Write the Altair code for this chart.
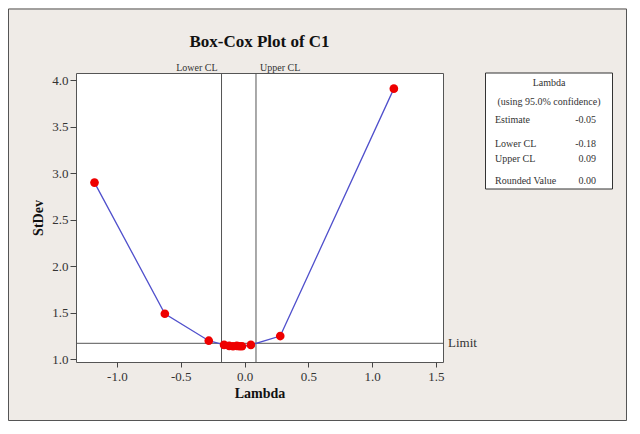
import altair as alt
import pandas as pd

# ---- data ----
lam = [-1.175, -0.624, -0.28, -0.16, -0.12, -0.09, -0.06, -0.04, -0.02, 0.05, 0.28, 1.17]
stdev = [2.90, 1.49, 1.20, 1.155, 1.145, 1.14, 1.145, 1.14, 1.14, 1.155, 1.25, 3.91]
x_ticks = [-1.0, -0.5, 0.0, 0.5, 1.0, 1.5]
y_ticks = [1.0, 1.5, 2.0, 2.5, 3.0, 3.5, 4.0]
lower_cl = -0.18
upper_cl = 0.09
limit = 1.172
legend_labels = ["Estimate", "Lower CL", "Upper CL", "Rounded Value"]
legend_values = ["-0.05", "-0.18", "0.09", "0.00"]

FONT = "Liberation Serif"
W, H = 367, 289
PAD = {"left": 68, "top": 65, "right": 184, "bottom": 59}

df = pd.DataFrame({"Lambda": lam, "StDev": stdev})
cl_df = pd.DataFrame({"v": [lower_cl, upper_cl], "lab": ["Lower CL", "Upper CL"]})
lim_df = pd.DataFrame({"y": [limit]})

xs = alt.Scale(domain=[-1.32, 1.555], nice=False, zero=False)
ys = alt.Scale(domain=[0.971, 4.078], nice=False, zero=False)

HYPHEN = "replace(format(datum.value, '.1f'), '\u2212', '-')"

xaxis = alt.Axis(values=x_ticks, labelExpr=HYPHEN, grid=False, domain=False, tickSize=5,
                 tickColor="#444", labelFont=FONT, labelFontSize=13, labelColor="#333",
                 labelPadding=3, title="Lambda", titleFont=FONT, titleFontSize=14,
                 titleFontWeight="bold", titleColor="#111", titlePadding=3)
yaxis = alt.Axis(values=y_ticks, labelExpr=HYPHEN, grid=False, domain=False, tickSize=6,
                 tickColor="#444", labelFont=FONT, labelFontSize=13, labelColor="#333",
                 labelPadding=2, title="StDev", titleFont=FONT, titleFontSize=14,
                 titleFontWeight="bold", titleColor="#111", titlePadding=6)

base = alt.Chart(df)

line = base.mark_line(color="#5050cc", strokeWidth=1.3).encode(
    x=alt.X("Lambda:Q", scale=xs, axis=xaxis),
    y=alt.Y("StDev:Q", scale=ys, axis=yaxis),
)
pts = base.mark_circle(color="#ee0000", size=75, opacity=1).encode(
    x=alt.X("Lambda:Q", scale=xs), y=alt.Y("StDev:Q", scale=ys)
)

cl_rules = alt.Chart(cl_df).mark_rule(color="#555", strokeWidth=1).encode(
    x=alt.X("v:Q", scale=xs)
)
lower_txt = alt.Chart(cl_df.iloc[[0]]).mark_text(
    font=FONT, fontSize=10, color="#333", align="right", baseline="alphabetic", dx=-4
).encode(x=alt.X("v:Q", scale=xs), y=alt.value(-2.5), text="lab:N")
upper_txt = alt.Chart(cl_df.iloc[[1]]).mark_text(
    font=FONT, fontSize=10, color="#333", align="left", baseline="alphabetic", dx=4
).encode(x=alt.X("v:Q", scale=xs), y=alt.value(-2.5), text="lab:N")

lim_rule = alt.Chart(lim_df).mark_rule(color="#555", strokeWidth=1).encode(
    y=alt.Y("y:Q", scale=ys)
)
lim_txt = alt.Chart(lim_df).mark_text(
    font=FONT, fontSize=13, color="#333", align="left", baseline="middle", dx=5, text="Limit"
).encode(x=alt.value(W), y=alt.Y("y:Q", scale=ys))

title = alt.Chart(lim_df).mark_text(
    font=FONT, fontSize=17, fontWeight="bold", color="#111", align="center",
    baseline="alphabetic", text="Box-Cox Plot of C1"
).encode(x=alt.value(W / 2), y=alt.value(-26.5))

# outer frame of the graph window
outer = alt.Chart(lim_df).mark_rect(fill=None, stroke="#555", strokeWidth=1).encode(
    x=alt.value(-67.5), x2=alt.value(550.5), y=alt.value(-64), y2=alt.value(347.5)
)

# legend-like info box
box = alt.Chart(lim_df).mark_rect(fill="white", stroke="#333", strokeWidth=1).encode(
    x=alt.value(409.5), x2=alt.value(536.5), y=alt.value(0), y2=alt.value(116)
)
box_layers = [
    alt.Chart(lim_df).mark_text(font=FONT, fontSize=10, color="#333", align="center",
                                baseline="middle", text="Lambda").encode(
        x=alt.value(473), y=alt.value(10)),
    alt.Chart(lim_df).mark_text(font=FONT, fontSize=10, color="#333", align="center",
                                baseline="middle", text="(using 95.0% confidence)").encode(
        x=alt.value(473), y=alt.value(29)),
]
row_y = [47, 71, 86, 108]
for lab, val, yy in zip(legend_labels, legend_values, row_y):
    box_layers.append(
        alt.Chart(lim_df).mark_text(font=FONT, fontSize=10, color="#333", align="left",
                                    baseline="middle", text=lab).encode(
            x=alt.value(419), y=alt.value(yy)))
    box_layers.append(
        alt.Chart(lim_df).mark_text(font=FONT, fontSize=10, color="#333", align="right",
                                    baseline="middle", text=val).encode(
            x=alt.value(520), y=alt.value(yy)))

chart = alt.layer(
    outer, cl_rules, lim_rule, line, pts, lower_txt, upper_txt, lim_txt, title, box, *box_layers
).properties(
    width=W, height=H,
    autosize=alt.AutoSizeParams(type="none"),
    padding=PAD,
    background="#efebe7",
).configure_view(
    fill="white", stroke="#555", strokeWidth=1
)

chart.save("out.html", embed_options={"renderer": "svg", "actions": False})
